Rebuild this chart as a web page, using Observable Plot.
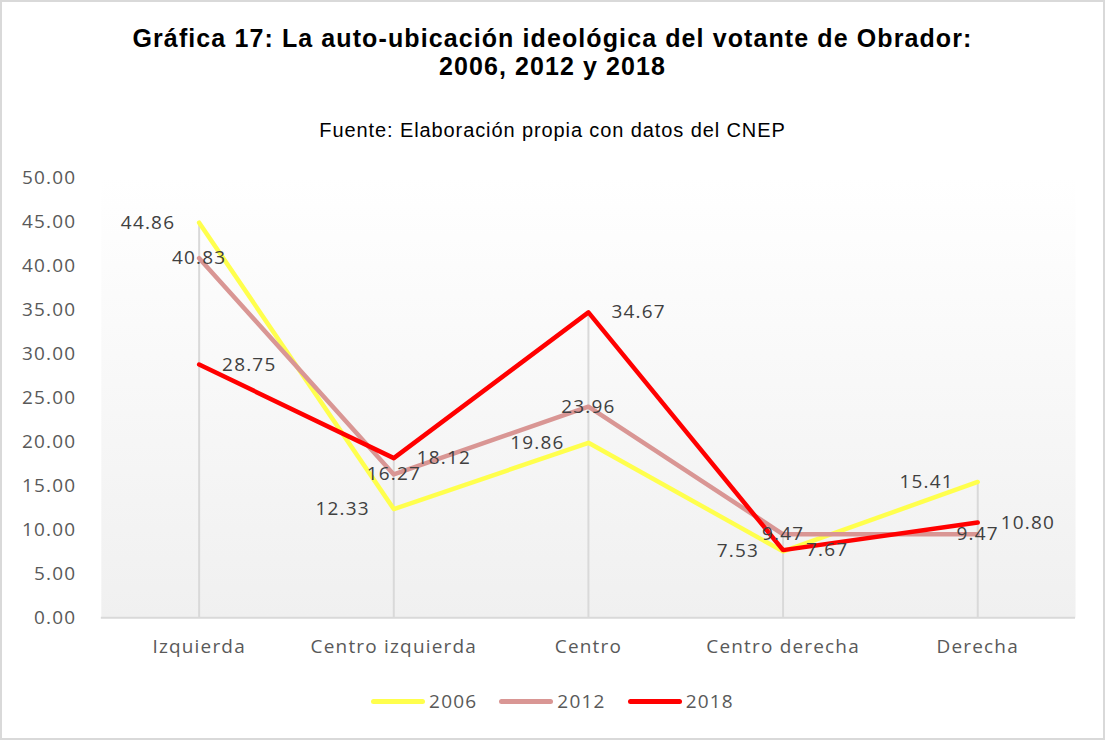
<!DOCTYPE html>
<html>
<head>
<meta charset="utf-8">
<script src="https://cdn.jsdelivr.net/npm/d3@7"></script>
<script src="https://cdn.jsdelivr.net/npm/@observablehq/plot@0.6"></script>
<style>
  html, body { margin: 0; padding: 0; background: #fff; }
  #wrap { position: relative; width: 1101px; height: 736px; border: 2px solid #d9d9d9; overflow: hidden; background:#fff; }
  #title { position: absolute; left: 0; right: 0; top: 22px; text-align: center; font-family: "Liberation Sans", Arial, sans-serif; font-weight: bold; font-size: 25px; letter-spacing: 1.1px; line-height: 28px; color: #000; }
  #subtitle { position: absolute; left: 0; right: 0; top: 117px; text-align: center; font-family: "Liberation Sans", Arial, sans-serif; font-size: 20px; letter-spacing: 0.9px; color: #000; }
  #chart { position: absolute; left: -2px; top: 147px; }
  #legend { position: absolute; left: 0; right: 0; top: 686px; display: flex; justify-content: center; gap: 22px; font-family: "Open Sans", sans-serif; font-size: 19px; color: #595959; letter-spacing: 1.2px; }
  .item { display: flex; align-items: center; gap: 4px; }
  .sw { width: 54px; height: 5px; border-radius: 3px; }
</style>
</head>
<body>
<div id="wrap">
  <div id="title">Gráfica 17: La auto-ubicación ideológica del votante de Obrador:<br>2006, 2012 y 2018</div>
  <div id="subtitle">Fuente: Elaboración propia con datos del CNEP</div>
  <div id="chart"></div>
  <div id="legend"></div>
</div>
<script>
const categories = ["Izquierda", "Centro izquierda", "Centro", "Centro derecha", "Derecha"];
const series = ["2006", "2012", "2018"];
const values2006 = [44.86, 12.33, 19.86, 7.53, 15.41];
const values2012 = [40.83, 16.27, 23.96, 9.47, 9.47];
const values2018 = [28.75, 18.12, 34.67, 7.67, 10.80];
const colors = ["#FFFF4D", "#D99694", "#FF0000"];
const yTicks = [0, 5, 10, 15, 20, 25, 30, 35, 40, 45, 50];

const allValues = [values2006, values2012, values2018];
const data = [];
series.forEach((s, i) => categories.forEach((c, j) => data.push({series: s, cat: c, value: allValues[i][j]})));
const maxPerCat = categories.map((c, j) => ({cat: c, max: Math.max(...allValues.map(v => v[j]))}));

const labelFont = "Open Sans, sans-serif";
const chart = Plot.plot({
  width: 1105,
  height: 513,
  marginTop: 28,
  marginBottom: 44,
  marginLeft: 101,
  marginRight: 28,
  style: {fontFamily: labelFont, fontSize: "19px", color: "#595959", letterSpacing: "1.2px"},
  x: {type: "point", domain: categories, padding: 0.5, label: null},
  y: {domain: [0, 50], label: null},
  color: {domain: series, range: colors},
  marks: [
    Plot.frame({fill: "url(#bgGrad)", stroke: null}),
    Plot.ruleX(maxPerCat, {x: "cat", y1: 0, y2: "max", stroke: "#d9d9d9", strokeWidth: 2}),
    Plot.ruleY([0], {stroke: "#d9d9d9", strokeWidth: 2}),
    Plot.axisY({ticks: yTicks, tickFormat: d => d.toFixed(2), tickSize: 0, tickPadding: 25, fill: "#595959", fontSize: 19}),
    Plot.axisX({tickSize: 0, tickPadding: 22, fill: "#595959", fontSize: 19}),
    Plot.line(data, {x: "cat", y: "value", z: "series", stroke: "series", strokeWidth: 4.5, strokeLinejoin: "round", strokeLinecap: "round"}),
    Plot.text(data.filter(d => d.series === "2006"), {x: "cat", y: "value", text: d => d.value.toFixed(2), textAnchor: "end", dx: -24, fill: "#404040", fontSize: 19}),
    Plot.text(data.filter(d => d.series === "2012"), {x: "cat", y: "value", text: d => d.value.toFixed(2), textAnchor: "middle", dx: 0, fill: "#404040", fontSize: 19}),
    Plot.text(data.filter(d => d.series === "2018"), {x: "cat", y: "value", text: d => d.value.toFixed(2), textAnchor: "start", dx: 23, fill: "#404040", fontSize: 19})
  ]
});
const defs = d3.select(chart).insert("defs", ":first-child");
const g = defs.append("linearGradient").attr("id", "bgGrad").attr("x1", 0).attr("y1", 0).attr("x2", 0).attr("y2", 1);
g.append("stop").attr("offset", "0%").attr("stop-color", "#ffffff");
g.append("stop").attr("offset", "100%").attr("stop-color", "#f0f0f0");
document.getElementById("chart").appendChild(chart);

const legend = d3.select("#legend");
series.forEach((s, i) => {
  const it = legend.append("div").attr("class", "item");
  it.append("div").attr("class", "sw").style("background", colors[i]);
  it.append("span").text(s);
});
</script>
</body>
</html>
